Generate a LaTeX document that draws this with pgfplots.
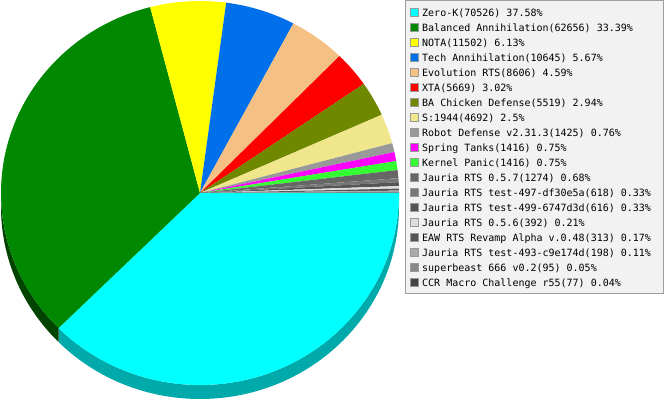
\documentclass[border=0pt]{standalone}
\usepackage{pgfplots}
\usepackage{pgfplotstable}
\usepackage{fontspec}
\setmonofont{DejaVu Sans Mono}
\pgfplotsset{compat=1.18}

% pie geometry, in pixels of the 665x400 picture (y up)
\def\cx{200}
\def\cy{207}
\def\depth{14bp}

\pgfplotstableread[col sep=comma]{
name,count,pct
Zero-K,70526,37.58
Balanced Annihilation,62656,33.39
NOTA,11502,6.13
Tech Annihilation,10645,5.67
Evolution RTS,8606,4.59
XTA,5669,3.02
BA Chicken Defense,5519,2.94
S:1944,4692,2.5
Robot Defense v2.31.3,1425,0.76
Spring Tanks,1416,0.75
Kernel Panic,1416,0.75
Jauria RTS 0.5.7,1274,0.68
Jauria RTS test-497-df30e5a,618,0.33
Jauria RTS test-499-6747d3d,616,0.33
Jauria RTS 0.5.6,392,0.21
EAW RTS Revamp Alpha v.0.48,313,0.17
Jauria RTS test-493-c9e174d,198,0.11
superbeast 666 v0.2,95,0.05
CCR Macro Challenge r55,77,0.04
}\piedata

\definecolor{c0}{HTML}{00FFFF}
\definecolor{c1}{HTML}{008800}
\definecolor{c2}{HTML}{FFFF00}
\definecolor{c3}{HTML}{0070EA}
\definecolor{c4}{HTML}{F4C084}
\definecolor{c5}{HTML}{FF0000}
\definecolor{c6}{HTML}{708800}
\definecolor{c7}{HTML}{F0E68C}
\definecolor{c8}{HTML}{999999}
\definecolor{c9}{HTML}{FF00FF}
\definecolor{c10}{HTML}{33FF33}
\definecolor{c11}{HTML}{666666}
\definecolor{c12}{HTML}{777777}
\definecolor{c13}{HTML}{555555}
\definecolor{c14}{HTML}{DDDDDD}
\definecolor{c15}{HTML}{555555}
\definecolor{c16}{HTML}{AAAAAA}
\definecolor{c17}{HTML}{888888}
\definecolor{c18}{HTML}{444444}
% darker side colours of the two slices that reach the front
\definecolor{d0}{HTML}{00AAAA}
\definecolor{d1}{HTML}{004400}
\definecolor{legbg}{HTML}{F2F2F2}

% total, then start/end angle of every slice (clockwise from east)
\gdef\total{0}
\foreach \i in {0,...,18}{
  \pgfplotstablegetelem{\i}{count}\of\piedata
  \xdef\total{\fpeval{\total+\pgfplotsretval}}
}
\gdef\cum{0}
\foreach \i in {0,...,18}{
  \expandafter\xdef\csname pa\i\endcsname{\fpeval{\cum/\total*360}}
  \expandafter\xdef\csname qa\i\endcsname{\fpeval{min(\cum/\total*360,180)}}
  \pgfplotstablegetelem{\i}{count}\of\piedata
  \expandafter\xdef\csname pc\i\endcsname{\pgfplotsretval}
  \xdef\cum{\fpeval{\cum+\pgfplotsretval}}
  \expandafter\xdef\csname pb\i\endcsname{\fpeval{\cum/\total*360}}
  \expandafter\xdef\csname qb\i\endcsname{\fpeval{min(\cum/\total*360,180)}}
  \pgfplotstablegetelem{\i}{name}\of\piedata
  \expandafter\xdef\csname pn\i\endcsname{\pgfplotsretval}
  \pgfplotstablegetelem{\i}{pct}\of\piedata
  \expandafter\xdef\csname pp\i\endcsname{\pgfplotsretval}
}

\begin{document}
\begin{tikzpicture}
\begin{axis}[
  width=665bp, height=400bp, scale only axis,
  xmin=0, xmax=665, ymin=0, ymax=400,
  hide axis, clip=false,
]
\coordinate (ll) at (axis cs:0,0);
\coordinate (ur) at (axis cs:665,400);
% side of the pie (front half only)
\pgfplotsinvokeforeach{0,1}{
  \fill[d#1] (axis cs:\cx,\cy) ++({-\csname qa#1\endcsname}:199bp and 192bp)
    arc[start angle=-\csname qa#1\endcsname, end angle=-\csname qb#1\endcsname, x radius=199bp, y radius=192bp]
    -- ++(0,-\depth)
    arc[start angle=-\csname qb#1\endcsname, end angle=-\csname qa#1\endcsname, x radius=199bp, y radius=192bp]
    -- cycle;
}
% top face
\pgfplotsinvokeforeach{0,...,18}{
  \fill[c#1] (axis cs:\cx,\cy) -- ++({-\csname pa#1\endcsname}:199bp and 192bp)
    arc[start angle=-\csname pa#1\endcsname, end angle=-\csname pb#1\endcsname, x radius=199bp, y radius=192bp]
    -- cycle;
}
% legend
\draw[draw=gray!75, fill=legbg] (axis cs:405.5,106.5) rectangle (axis cs:663.5,399.5);
\pgfplotsinvokeforeach{0,...,18}{
  \draw[draw=gray!80, fill=c#1] (axis cs:410.5,384-15*#1) rectangle (axis cs:418,391.5-15*#1);
  \node[anchor=base west, inner sep=0pt, font=\ttfamily\fontsize{10bp}{12bp}\selectfont]
    at (axis cs:422,384-15*#1)
    {\csname pn#1\endcsname(\csname pc#1\endcsname) \csname pp#1\endcsname\%};
}
\end{axis}
\pgfresetboundingbox
\path (ll) rectangle (ur);
\end{tikzpicture}
\end{document}
